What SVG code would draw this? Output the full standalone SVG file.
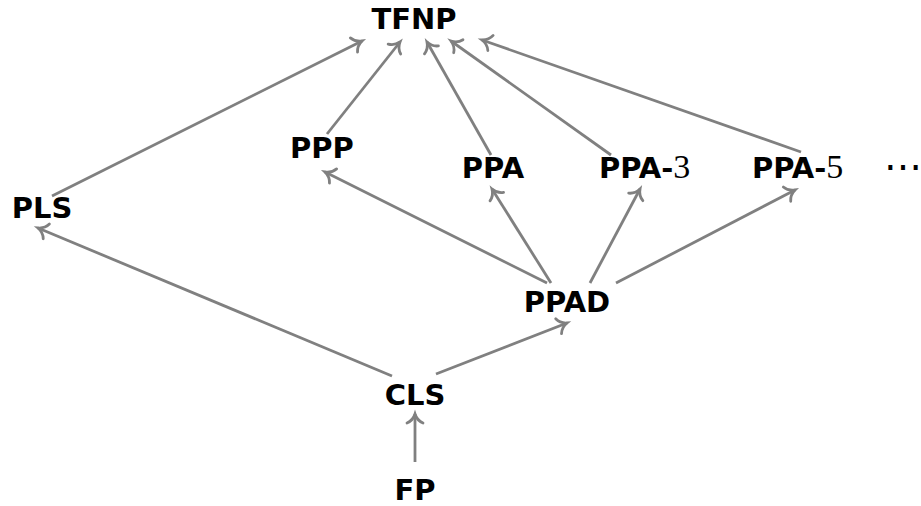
<svg xmlns="http://www.w3.org/2000/svg" width="921" height="506" viewBox="0 0 921 506">
<defs>
<style>
.lbl{font-family:"DejaVu Sans","Liberation Sans",sans-serif;font-weight:bold;font-size:29px;fill:#000}
.num{font-family:"Liberation Serif","DejaVu Serif",serif;font-weight:normal;font-size:34px}
.e{fill:none;stroke:#808080;stroke-width:2.8;marker-end:url(#ah)}
</style>
<marker id="ah" viewBox="-12 -12 24 24" markerWidth="24" markerHeight="24" refX="0" refY="0" orient="auto" markerUnits="userSpaceOnUse" style="overflow:visible">
<path d="M-9,-8 C-7,-3.2 -2.8,-0.9 0,0 C-2.8,0.9 -7,3.2 -9,8" fill="none" stroke="#808080" stroke-width="2.8" stroke-linecap="round"/>
</marker>
</defs>
<rect width="921" height="506" fill="#fff"/>
<g id="connectors">
<line class="e" x1="52" y1="196" x2="362" y2="41"/>
<line class="e" x1="327" y1="134" x2="400" y2="42"/>
<line class="e" x1="491" y1="155" x2="427" y2="42"/>
<line class="e" x1="611" y1="155" x2="451" y2="41"/>
<line class="e" x1="801" y1="152" x2="482" y2="40"/>
<line class="e" x1="547" y1="283" x2="325" y2="172"/>
<line class="e" x1="551" y1="283" x2="492" y2="189"/>
<line class="e" x1="590" y1="283" x2="640" y2="189"/>
<line class="e" x1="616" y1="283" x2="795" y2="190"/>
<line class="e" x1="392" y1="376" x2="38" y2="228"/>
<line class="e" x1="436" y1="374" x2="567" y2="323"/>
<line class="e" x1="415" y1="462" x2="415" y2="414"/>
</g>
<g id="TFNP"><text class="lbl" x="414" y="29" text-anchor="middle">TFNP</text></g>
<g id="PPP"><text class="lbl" x="322" y="158" text-anchor="middle">PPP</text></g>
<g id="PPA"><text class="lbl" x="493" y="178" text-anchor="middle">PPA</text></g>
<g id="PPA-3"><text class="lbl" x="599" y="178">PPA-<tspan class="num">3</tspan></text></g>
<g id="PPA-5"><text class="lbl" x="752" y="178">PPA-<tspan class="num">5</tspan></text></g>
<g id="dots"><text x="884" y="180" style="font-family:'DejaVu Serif',serif;font-size:38px">⋯</text></g>
<g id="PLS"><text class="lbl" x="42" y="218" text-anchor="middle">PLS</text></g>
<g id="PPAD"><text class="lbl" x="567" y="312" text-anchor="middle">PPAD</text></g>
<g id="CLS"><text class="lbl" x="415" y="405" text-anchor="middle">CLS</text></g>
<g id="FP"><text class="lbl" x="415" y="500" text-anchor="middle">FP</text></g>
</svg>
